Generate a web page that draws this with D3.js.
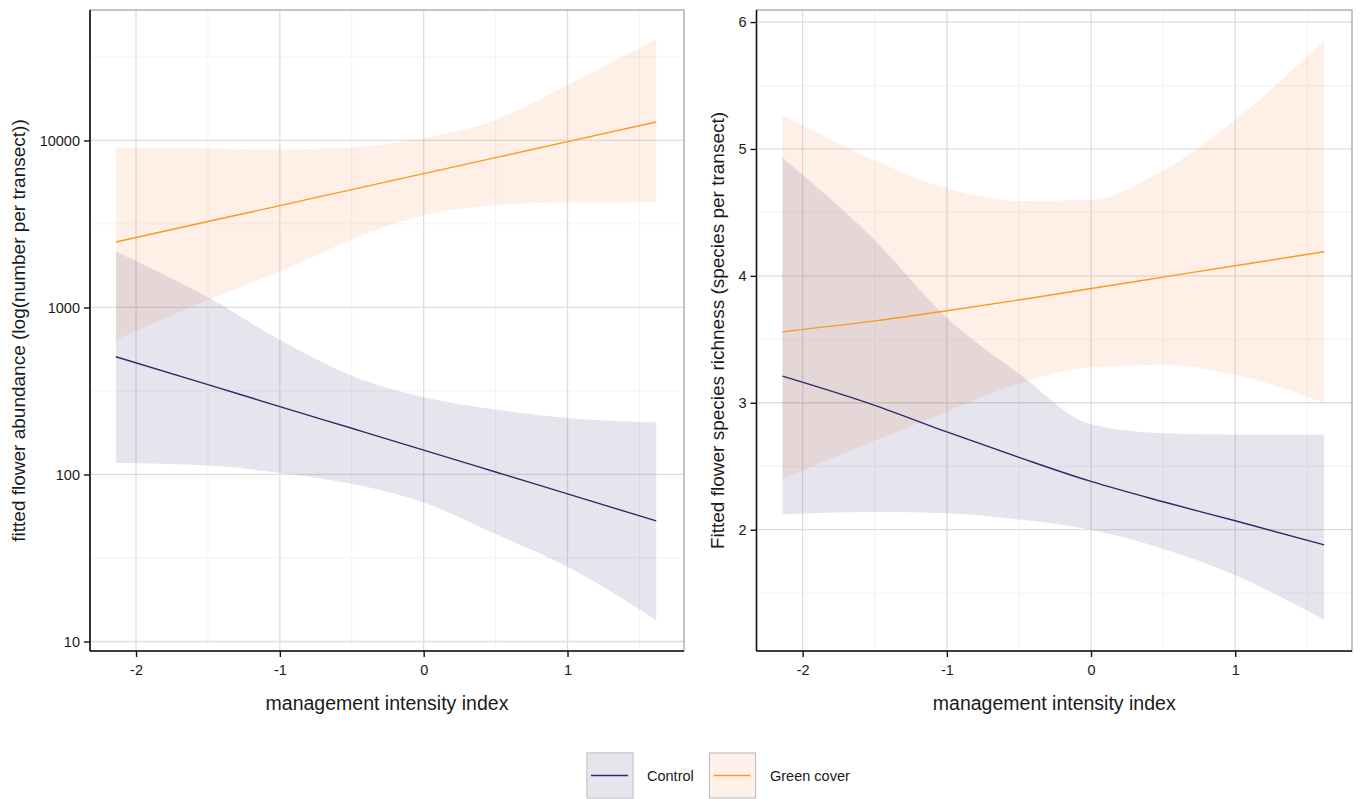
<!DOCTYPE html>
<html>
<head>
<meta charset="utf-8">
<script src="https://cdn.jsdelivr.net/npm/d3@7"></script>
<style>
  body { margin: 0; background: #fff; }
  svg text { font-family: "Liberation Sans", Arial, sans-serif; }
</style>
</head>
<body>
<svg id="chart" width="1362" height="799"></svg>
<script>
// management intensity index values where the fitted curves were read
var xVals = [-2.14, -1.5, -1, -0.5, 0, 0.5, 1, 1.617];

// left panel: fitted flower abundance (log scale)
var abControlFit = [507, 345, 255, 189, 140, 103.5, 76.5, 52.7];
var abControlLo  = [117, 113, 102, 88, 68, 44, 28, 13.4];
var abControlHi  = [2160, 1150, 640, 390, 290, 245, 218, 205];
var abGreenFit   = [2466, 3270, 4070, 5080, 6330, 7890, 9840, 12900];
var abGreenLo    = [638, 1110, 1640, 2540, 3550, 4100, 4250, 4285];
var abGreenHi    = [9020, 8950, 8850, 9100, 10350, 13270, 21500, 40500];

// right panel: fitted flower species richness
var spControlFit = [3.21, 2.98, 2.77, 2.57, 2.38, 2.22, 2.07, 1.88];
var spControlLo  = [2.12, 2.14, 2.13, 2.08, 2.00, 1.85, 1.64, 1.29];
var spControlHi  = [4.93, 4.28, 3.67, 3.23, 2.83, 2.76, 2.75, 2.75];
var spGreenFit   = [3.56, 3.645, 3.725, 3.81, 3.90, 3.99, 4.08, 4.19];
var spGreenLo    = [2.40, 2.70, 2.93, 3.15, 3.28, 3.30, 3.22, 3.00];
var spGreenHi    = [5.27, 4.91, 4.69, 4.59, 4.60, 4.83, 5.23, 5.86];

var xTicks = [-2, -1, 0, 1];
var xMinor = [-1.5, -0.5, 0.5, 1.5];
var abTicks = [10, 100, 1000, 10000];
var abMinor = [31.62, 316.2, 3162, 31623];
var spTicks = [2, 3, 4, 5, 6];
var spMinor = [1.5, 2.5, 3.5, 4.5, 5.5];

var groups = ["Control", "Green cover"];
var lineColors = { "Control": "#2e2a6b", "Green cover": "#fb9a1e" };
var bandColors = { "Control": "#2e2a6b", "Green cover": "#f5823a" };
var bandAlpha = 0.12;

var svg = d3.select("#chart");
var plotTop = 10, plotBottom = 651;

function drawPanel(opt) {
    var x = d3.scaleLinear().domain([-2.32, 1.81]).range([opt.left, opt.right]);
    var y = opt.y;
    var g = svg.append("g");

    // grid
    g.selectAll(".vmin").data(xMinor).enter().append("line")
        .attr("x1", d => x(d)).attr("x2", d => x(d)).attr("y1", plotTop).attr("y2", plotBottom)
        .attr("stroke", "#f3f3f3").attr("stroke-width", 1);
    g.selectAll(".hmin").data(opt.minor).enter().append("line")
        .attr("x1", opt.left).attr("x2", opt.right).attr("y1", d => y(d)).attr("y2", d => y(d))
        .attr("stroke", "#f3f3f3").attr("stroke-width", 1);
    g.selectAll(".vmaj").data(xTicks).enter().append("line")
        .attr("x1", d => x(d)).attr("x2", d => x(d)).attr("y1", plotTop).attr("y2", plotBottom)
        .attr("stroke", "#dedede").attr("stroke-width", 1.3);
    g.selectAll(".hmaj").data(opt.ticks).enter().append("line")
        .attr("x1", opt.left).attr("x2", opt.right).attr("y1", d => y(d)).attr("y2", d => y(d))
        .attr("stroke", "#dedede").attr("stroke-width", 1.3);

    // ribbons
    var area = d3.area().x(d => x(d.x)).y0(d => y(d.lo)).y1(d => y(d.hi)).curve(d3.curveMonotoneX);
    var line = d3.line().x(d => x(d.x)).y(d => y(d.fit)).curve(d3.curveMonotoneX);

    opt.series.forEach(function(s) {
        var pts = xVals.map((v, i) => ({ x: v, fit: s.fit[i], lo: s.lo[i], hi: s.hi[i] }));
        g.append("path").datum(pts).attr("d", area)
            .attr("fill", bandColors[s.name]).attr("fill-opacity", bandAlpha);
    });
    opt.series.forEach(function(s) {
        var pts = xVals.map((v, i) => ({ x: v, fit: s.fit[i], lo: s.lo[i], hi: s.hi[i] }));
        g.append("path").datum(pts).attr("d", line)
            .attr("fill", "none").attr("stroke", lineColors[s.name]).attr("stroke-width", 1.4);
    });

    // border
    g.append("rect").attr("x", opt.left).attr("y", plotTop)
        .attr("width", opt.right - opt.left).attr("height", plotBottom - plotTop)
        .attr("fill", "none").attr("stroke", "#8a8a8a").attr("stroke-width", 1);

    // axes
    var xAxis = g.append("g").attr("transform", "translate(0," + plotBottom + ")")
        .call(d3.axisBottom(x).tickValues(xTicks).tickSize(6).tickPadding(8).tickFormat(d => String(d)));
    var yAxis = g.append("g").attr("transform", "translate(" + opt.left + ",0)")
        .call(d3.axisLeft(y).tickValues(opt.ticks).tickSize(6).tickPadding(4).tickFormat(d => String(d)));
    [xAxis, yAxis].forEach(function(a) {
        a.select(".domain").attr("stroke", "#111").attr("stroke-width", 1.6);
        a.selectAll(".tick line").attr("stroke", "#111").attr("stroke-width", 1.4);
        a.selectAll(".tick text").attr("fill", "#1a1a1a").style("font-size", "14.5px");
    });
    xAxis.select(".domain").attr("d", "M" + opt.left + ",0H" + opt.right);
    yAxis.select(".domain").attr("d", "M0," + plotTop + "V" + plotBottom);

    // titles
    g.append("text").attr("x", (opt.left + opt.right) / 2).attr("y", 710)
        .attr("text-anchor", "middle").attr("fill", "#1a1a1a").style("font-size", "19.5px")
        .text("management intensity index");
    g.append("text").attr("transform", "translate(" + opt.titleX + "," + (plotTop + plotBottom) / 2 + ") rotate(-90)")
        .attr("text-anchor", "middle").attr("fill", "#1a1a1a").style("font-size", "19px")
        .text(opt.title);
}

drawPanel({
    left: 90, right: 684,
    y: d3.scaleLog().domain([8.77, 60400]).range([plotBottom, plotTop]),
    ticks: abTicks, minor: abMinor,
    titleX: 25,
    title: "fitted flower abundance (log(number per transect))",
    series: [
        { name: "Green cover", fit: abGreenFit, lo: abGreenLo, hi: abGreenHi },
        { name: "Control", fit: abControlFit, lo: abControlLo, hi: abControlHi }
    ]
});

drawPanel({
    left: 756.5, right: 1352,
    y: d3.scaleLinear().domain([1.044, 6.095]).range([plotBottom, plotTop]),
    ticks: spTicks, minor: spMinor,
    titleX: 724,
    title: "Fitted flower species richness (species per transect)",
    series: [
        { name: "Green cover", fit: spGreenFit, lo: spGreenLo, hi: spGreenHi },
        { name: "Control", fit: spControlFit, lo: spControlLo, hi: spControlHi }
    ]
});

// legend
var legend = svg.append("g");
var keyX = [587, 709.5], textX = [647, 770];
groups.forEach(function(name, i) {
    legend.append("rect").attr("x", keyX[i]).attr("y", 753).attr("width", 46).attr("height", 45)
        .attr("fill", "#fff").attr("stroke", "#bdbdbd").attr("stroke-width", 1.2);
    legend.append("rect").attr("x", keyX[i] + 1).attr("y", 754).attr("width", 44).attr("height", 43)
        .attr("fill", bandColors[name]).attr("fill-opacity", bandAlpha);
    legend.append("line").attr("x1", keyX[i] + 4).attr("x2", keyX[i] + 41).attr("y1", 775.5).attr("y2", 775.5)
        .attr("stroke", lineColors[name]).attr("stroke-width", 1.5);
    legend.append("text").attr("x", textX[i]).attr("y", 780.5).attr("fill", "#1a1a1a")
        .style("font-size", "14.5px").text(name);
});
</script>
</body>
</html>
